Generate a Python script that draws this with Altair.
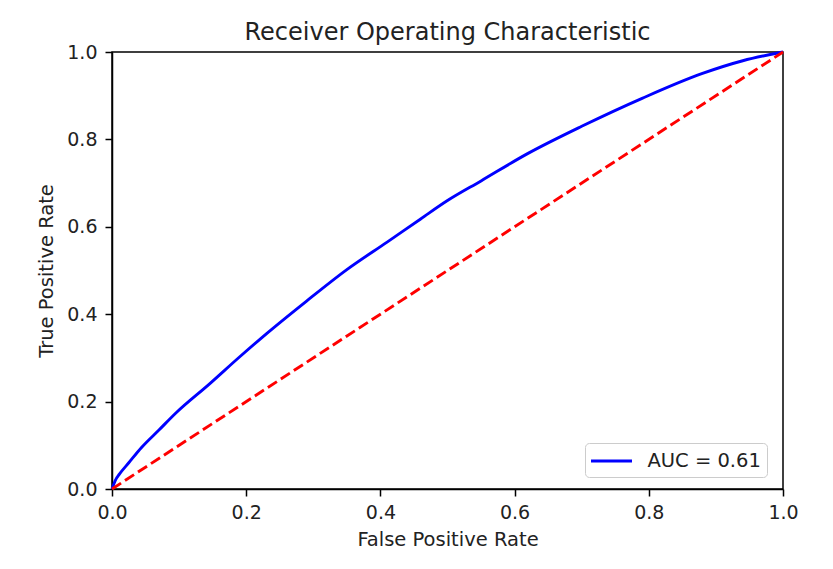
import altair as alt
import pandas as pd

fpr = [0.0, 0.005, 0.011, 0.025, 0.044, 0.07, 0.096, 0.145, 0.19, 0.23, 0.29,
       0.35, 0.41, 0.46, 0.50, 0.55, 0.62, 0.70, 0.79, 0.88, 0.94, 1.0]
tpr = [0.0, 0.02, 0.034, 0.06, 0.095, 0.135, 0.175, 0.24, 0.302, 0.355, 0.43,
       0.502, 0.565, 0.618, 0.66, 0.705, 0.768, 0.83, 0.894, 0.951, 0.98, 1.0]
diag_x = [0.0, 1.0]
diag_y = [0.0, 1.0]
auc_label = "AUC = 0.61"
ticks = [0.0, 0.2, 0.4, 0.6, 0.8, 1.0]

FONT = "DejaVu Sans"
TXT = "#222222"

roc = pd.DataFrame({"fpr": fpr, "tpr": tpr, "label": [auc_label] * len(fpr)})
diag = pd.DataFrame({"fpr": diag_x, "tpr": diag_y})

xenc = alt.X("fpr:Q", scale=alt.Scale(domain=[0, 1], nice=False, zero=False),
             axis=alt.Axis(title="False Positive Rate", values=ticks, format=".1f",
                           labelFlush=False))
yenc = alt.Y("tpr:Q", scale=alt.Scale(domain=[0, 1], nice=False, zero=False),
             axis=alt.Axis(title="True Positive Rate", values=ticks, format=".1f",
                           labelFlush=False))

line = alt.Chart(roc).mark_line(strokeWidth=2.9, interpolate="monotone").encode(
    x=xenc, y=yenc, order="fpr:Q",
    color=alt.Color("label:N",
                    scale=alt.Scale(domain=[auc_label], range=["#0000ff"]),
                    legend=alt.Legend(
                        title=None, orient="none", legendX=473, legendY=391,
                        symbolType="M-2,0H2", symbolSize=420, symbolStrokeWidth=2.9,
                        symbolOffset=8.5, labelOffset=24,
                        labelFontSize=19.5, labelFont=FONT, labelColor=TXT,
                        padding=6, strokeColor="#cccccc", cornerRadius=4,
                        fillColor="#ffffff")),
)

dash = alt.Chart(diag).mark_line(color="#ff0000", strokeWidth=2.9,
                                  strokeDash=[10.8, 4.7]).encode(x="fpr:Q", y="tpr:Q")

chart = (line + dash).properties(
    width=671, height=437,
    title=alt.TitleParams("Receiver Operating Characteristic", font=FONT, fontSize=24,
                          fontWeight="normal", color=TXT, offset=-2),
    autosize=alt.AutoSizeParams(type="none"),
    padding={"left": 104, "top": 44, "right": 42, "bottom": 64},
).configure_view(stroke="#000000", strokeWidth=1.5).configure_axis(
    grid=False, domainColor="#000000", domainWidth=1.5,
    tickColor="#000000", tickWidth=1.5, tickSize=7,
    labelFont=FONT, labelFontSize=19, labelColor=TXT, labelPadding=7,
    titleFont=FONT, titleFontSize=19.5, titleColor=TXT, titleFontWeight="normal",
).configure_axisX(titlePadding=8).configure_axisY(titlePadding=10, labelPadding=8)

chart.save("out.html", embed_options={"renderer": "svg", "actions": False})
